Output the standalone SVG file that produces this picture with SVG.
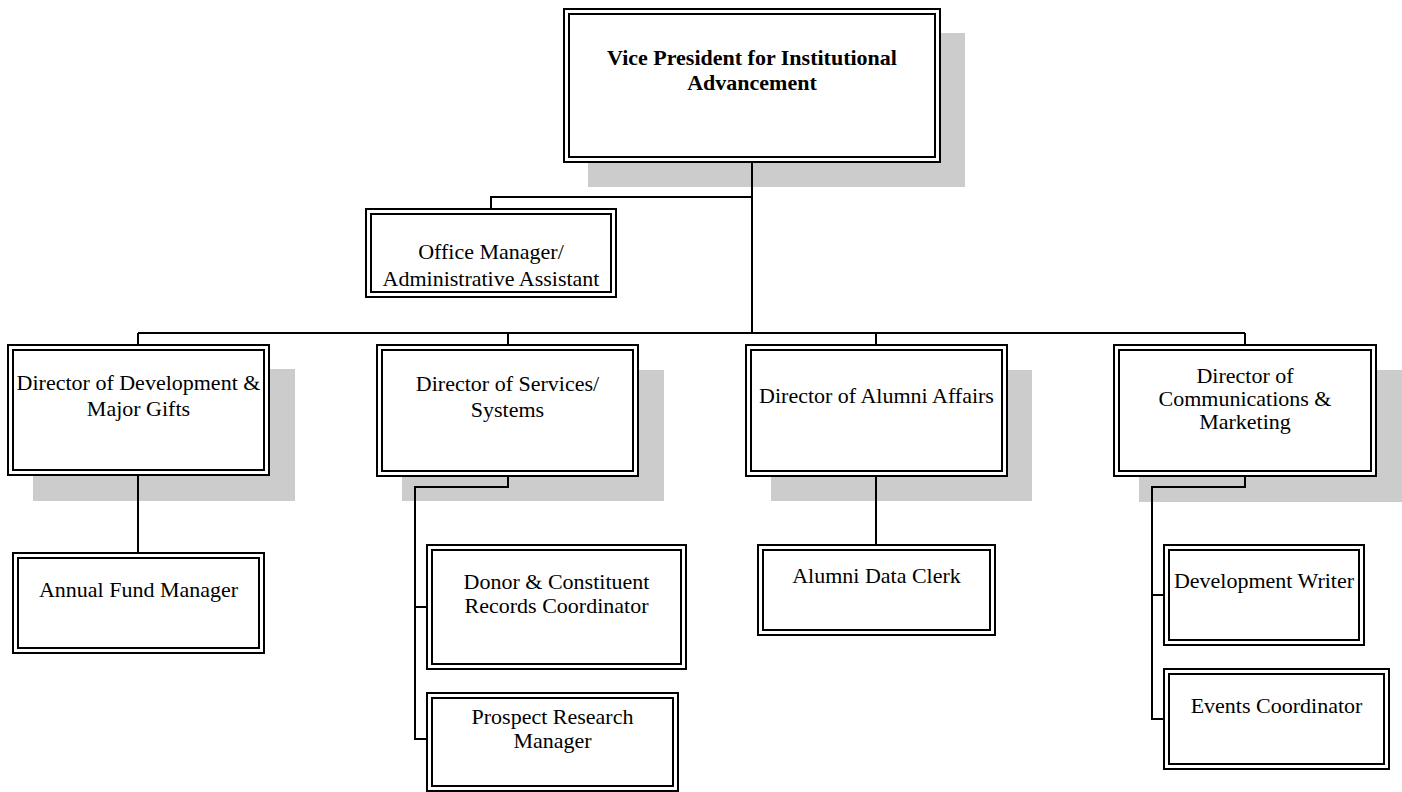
<svg xmlns="http://www.w3.org/2000/svg" width="1402" height="792" viewBox="0 0 1402 792">
<style>
.shadow{fill:#cccccc;stroke:none}
.outer{fill:#ffffff;stroke:#000;stroke-width:2}
.inner{fill:none;stroke:#000;stroke-width:2}
.conn{fill:none;stroke:#000;stroke-width:2}
text{font-family:"Liberation Serif","Times New Roman",serif;font-size:22px;fill:#000;text-anchor:middle}
.b{font-weight:bold}
</style>
<rect width="1402" height="792" fill="#ffffff"/>
<g id="shadows">
<rect class="shadow" x="588" y="33" width="377" height="154"/>
<rect class="shadow" x="33" y="369" width="262" height="132"/>
<rect class="shadow" x="402" y="370" width="262" height="131"/>
<rect class="shadow" x="771" y="370" width="261" height="131"/>
<rect class="shadow" x="1139" y="370" width="263" height="132"/>
</g>
<g id="connectors">
<path class="conn" d="M752 162 V333"/>
<path class="conn" d="M752 197 H491 V209"/>
<path class="conn" d="M138 333 H1245"/>
<path class="conn" d="M138 333 V345 M138 475 V553"/>
<path class="conn" d="M508 333 V345 M508 476 V487 H415 V739 H427 M415 607 H427"/>
<path class="conn" d="M876 333 V345 M876 476 V545"/>
<path class="conn" d="M1245 333 V345 M1245 476 V487 H1152 V719 H1164 M1152 595 H1164"/>
</g>
<g id="vp">
<rect class="outer" x="564" y="9" width="376" height="153"/>
<rect class="inner" x="569" y="14" width="366" height="143"/>
<text class="b" x="752" y="65">Vice President for Institutional</text>
<text class="b" x="752" y="90">Advancement</text>
</g>
<g id="office-manager">
<rect class="outer" x="366" y="209" width="250" height="88"/>
<rect class="inner" x="371" y="214" width="240" height="78"/>
<text x="491" y="259">Office Manager/</text>
<text x="491" y="286">Administrative Assistant</text>
</g>
<g id="dir-development">
<rect class="outer" x="8" y="345" width="261" height="130"/>
<rect class="inner" x="13" y="350" width="251" height="120"/>
<text x="138.5" y="390">Director of Development &amp;</text>
<text x="138.5" y="416">Major Gifts</text>
</g>
<g id="dir-services">
<rect class="outer" x="377" y="345" width="261" height="131"/>
<rect class="inner" x="382" y="350" width="251" height="121"/>
<text x="507.5" y="391">Director of Services/</text>
<text x="507.5" y="417">Systems</text>
</g>
<g id="dir-alumni">
<rect class="outer" x="746" y="345" width="261" height="131"/>
<rect class="inner" x="751" y="350" width="251" height="121"/>
<text x="876.5" y="403">Director of Alumni Affairs</text>
</g>
<g id="dir-communications">
<rect class="outer" x="1114" y="345" width="262" height="131"/>
<rect class="inner" x="1119" y="350" width="252" height="121"/>
<text x="1245" y="383">Director of</text>
<text x="1245" y="406">Communications &amp;</text>
<text x="1245" y="429">Marketing</text>
</g>
<g id="annual-fund">
<rect class="outer" x="13" y="553" width="251" height="100"/>
<rect class="inner" x="18" y="558" width="241" height="90"/>
<text x="138.5" y="597">Annual Fund Manager</text>
</g>
<g id="donor-records">
<rect class="outer" x="427" y="545" width="259" height="124"/>
<rect class="inner" x="432" y="550" width="249" height="114"/>
<text x="556.5" y="589">Donor &amp; Constituent</text>
<text x="556.5" y="613">Records Coordinator</text>
</g>
<g id="prospect-research">
<rect class="outer" x="427" y="693" width="251" height="98"/>
<rect class="inner" x="432" y="698" width="241" height="88"/>
<text x="552.5" y="724">Prospect Research</text>
<text x="552.5" y="748">Manager</text>
</g>
<g id="alumni-data-clerk">
<rect class="outer" x="758" y="545" width="237" height="90"/>
<rect class="inner" x="763" y="550" width="227" height="80"/>
<text x="876.5" y="583">Alumni Data Clerk</text>
</g>
<g id="development-writer">
<rect class="outer" x="1164" y="545" width="200" height="100"/>
<rect class="inner" x="1169" y="550" width="190" height="90"/>
<text x="1264" y="588">Development Writer</text>
</g>
<g id="events-coordinator">
<rect class="outer" x="1164" y="669" width="225" height="100"/>
<rect class="inner" x="1169" y="674" width="215" height="90"/>
<text x="1276.5" y="713">Events Coordinator</text>
</g>
</svg>
